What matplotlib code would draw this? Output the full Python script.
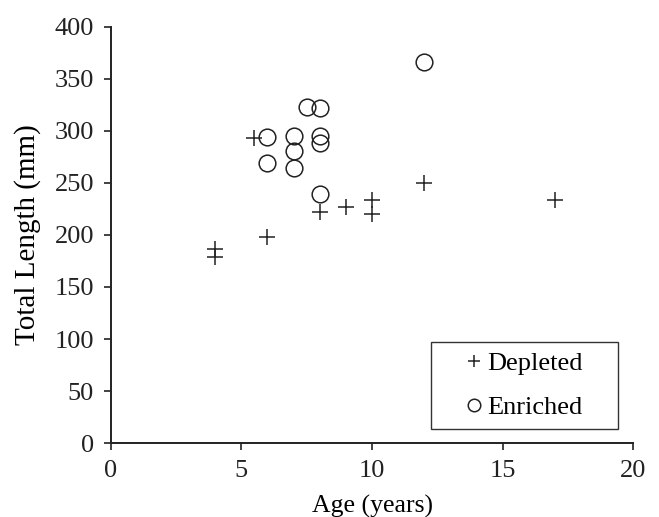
import matplotlib.pyplot as plt
from matplotlib.patches import Rectangle

# Depleted fish
dep_age = [4, 4, 5.5, 6, 8, 9, 10, 10, 12, 17]
dep_len = [187, 179, 293, 198, 222, 227, 234, 220, 250, 234]

# Enriched fish
enr_age = [6, 6, 7, 7, 7, 7.5, 8, 8, 8, 8, 12]
enr_len = [294, 269, 295, 281, 264, 323, 322, 295, 288, 239, 366]

plt.rcParams['font.family'] = ['Liberation Serif', 'DejaVu Serif']

fig = plt.figure(figsize=(6.59, 5.17), dpi=100)
ax = fig.add_axes([0.168, 0.143, 0.793, 0.805])

ax.plot(dep_age, dep_len, ls='none', marker='+', ms=12, mew=1.1,
        color='#222222', label='Depleted')
ax.plot(enr_age, enr_len, ls='none', marker='o', ms=12, mew=1.1,
        mfc='none', mec='#222222', label='Enriched')

ax.set_xlim(0, 20)
ax.set_ylim(0, 400)
ax.set_xticks([0, 5, 10, 15, 20])
ax.set_yticks(range(0, 401, 50))
ax.tick_params(labelsize=19, direction='out', length=5, width=1.2,
               pad=7, colors='#222222')
ax.spines['top'].set_visible(False)
ax.spines['right'].set_visible(False)
for s in ['left', 'bottom']:
    ax.spines[s].set_linewidth(1.4)
    ax.spines[s].set_color('#222222')

ax.set_xlabel('Age (years)', fontsize=18.5, labelpad=9.5)
ax.set_ylabel('Total Length (mm)', fontsize=21, labelpad=10)

# legend box drawn separately so its padding can be wider than tall
box = Rectangle((0.613, 0.034), 0.358, 0.209, transform=ax.transAxes,
                fill=False, ec='#333333', lw=1.0, zorder=3)
ax.add_patch(box)
leg = ax.legend(loc='center', bbox_to_anchor=(0.792, 0.1385), fontsize=19,
                frameon=False, handlelength=0.5, handletextpad=0.25,
                borderpad=0, labelspacing=0.78, markerscale=0.75)

fig.savefig('out.png', dpi=100)
